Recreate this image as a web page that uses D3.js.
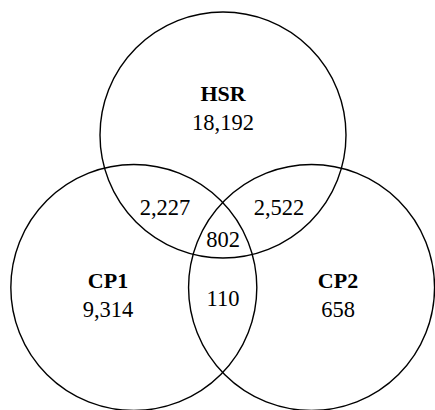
<!DOCTYPE html>
<html>
<head>
<meta charset="utf-8">
<script src="https://cdn.jsdelivr.net/npm/d3@7"></script>
<style>
  html, body { margin: 0; padding: 0; background: #fff; }
  svg text { font-family: 'Times New Roman', 'Liberation Serif', Times, serif; fill: #000; }
</style>
</head>
<body>
<div id="app"></div>
<script>
// set names and region counts
const sets = ['HSR', 'CP1', 'CP2'];
const onlyCounts = [18192, 9314, 658];
const pairRegions = [['HSR', 'CP1'], ['HSR', 'CP2'], ['CP1', 'CP2']];
const pairCounts = [2227, 2522, 110];
const tripleCount = 802;

const width = 435, height = 410;
const fmt = d3.format(',');

const svg = d3.select('#app').append('svg')
  .attr('width', width)
  .attr('height', height);

// venn layout in unit coordinates (radius = 1)
const centers = {
  HSR: [0, -0.62],
  CP1: [-0.725, 0.62],
  CP2: [0.72, 0.62]
};

const unit = 123;
const x = d3.scaleLinear().domain([-1, 1]).range([223 - unit, 223 + unit]);
const y = d3.scaleLinear().domain([-1, 1]).range([211.3 - unit, 211.3 + unit]);

svg.selectAll('circle')
  .data(sets)
  .enter()
  .append('circle')
  .attr('cx', d => x(centers[d][0]))
  .attr('cy', d => y(centers[d][1]))
  .attr('r', unit)
  .attr('fill', 'none')
  .attr('stroke', '#000')
  .attr('stroke-width', 1.4);

// label anchors for each region (unit coords, text baseline)
const singleAnchor = {
  HSR: [0, -0.896],
  CP1: [-0.935, 0.624],
  CP2: [0.935, 0.624]
};
const pairAnchor = [[-0.472, 0.03], [0.455, 0.03], [0, 0.77]];
const tripleAnchor = [0, 0.29];

const singles = svg.selectAll('.single')
  .data(sets)
  .enter()
  .append('g')
  .attr('class', 'single')
  .attr('transform', d => 'translate(' + x(singleAnchor[d][0]) + ',' + y(singleAnchor[d][1]) + ')');

singles.append('text')
  .attr('text-anchor', 'middle')
  .attr('y', 0)
  .style('font-size', '22px')
  .style('font-weight', 'bold')
  .text(d => d);

singles.append('text')
  .attr('text-anchor', 'middle')
  .attr('y', 29)
  .style('font-size', '22.5px')
  .text((d, i) => fmt(onlyCounts[i]));

svg.selectAll('.pair')
  .data(pairRegions)
  .enter()
  .append('text')
  .attr('class', 'pair')
  .attr('text-anchor', 'middle')
  .attr('x', (d, i) => x(pairAnchor[i][0]))
  .attr('y', (d, i) => y(pairAnchor[i][1]))
  .style('font-size', '22.5px')
  .text((d, i) => fmt(pairCounts[i]));

// triple overlap
svg.append('text')
  .attr('text-anchor', 'middle')
  .attr('x', x(tripleAnchor[0]))
  .attr('y', y(tripleAnchor[1]))
  .style('font-size', '22.5px')
  .text(fmt(tripleCount));
</script>
</body>
</html>
